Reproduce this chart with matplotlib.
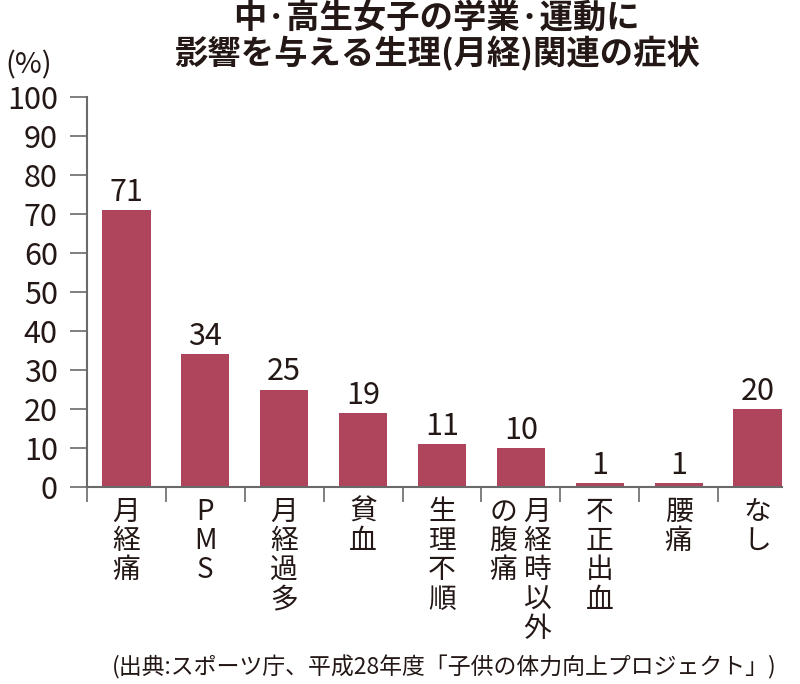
import matplotlib
matplotlib.use("Agg")
import matplotlib.pyplot as plt
import numpy as np

plt.rcParams['font.family'] = ['Noto Sans CJK JP', 'DejaVu Sans']

title = "中·高生女子の学業·運動に\n影響を与える生理(月経)関連の症状"
categories = ["月経痛", "PMS", "月経過多", "貧血", "生理不順",
              "月経時以外の腹痛", "不正出血", "腰痛", "なし"]
tick_labels = ["月\n経\n痛", "P\nM\nS", "月\n経\n過\n多", "貧\n血", "生\n理\n不\n順",
               "の 月\n腹 経\n痛 時\n\u3000 以\n\u3000 外", "不\n正\n出\n血", "腰\n痛", "な\nし"]
values = [71, 34, 25, 19, 11, 10, 1, 1, 20]
yticks = [0, 10, 20, 30, 40, 50, 60, 70, 80, 90, 100]
unit_label = "(%)"
source = "(出典:スポーツ庁、平成28年度「子供の体力向上プロジェクト」)"

BAR = '#AE455C'
TXT = '#231815'
AX = '#6a6a6a'

fig = plt.figure(figsize=(8, 6.84), dpi=100)
ax = fig.add_axes([0.10875, 0.288, 0.977 - 0.10875, 0.858 - 0.288])

x = np.arange(len(categories))
w = 0.61
ax.bar(x, values, width=w, color=BAR, zorder=2)
for xi, v in zip(x, values):
    ax.text(xi, v + 0.6, str(v), ha='center', va='bottom', fontsize=22, color=TXT)

ax.set_xlim(-0.5, len(categories) - 1 + w / 2)
ax.set_ylim(0, 100)
ax.set_yticks(yticks)
ax.set_yticklabels([str(t) for t in yticks], fontsize=22, color=TXT)
ax.tick_params(axis='y', length=12, width=1.2, color=AX, pad=9)

ax.set_xticks(x)
ax.set_xticklabels(tick_labels, fontsize=20, color=TXT, va='top', linespacing=0.97)
ax.tick_params(axis='x', which='major', length=0, pad=7)
ax.set_xticks(np.arange(-0.5, len(categories) - 1, 1.0), minor=True)
ax.tick_params(axis='x', which='minor', length=11, width=1.2, color=AX, direction='out')

for s in ['top', 'right']:
    ax.spines[s].set_visible(False)
for s in ['left', 'bottom']:
    ax.spines[s].set_color(AX)
    ax.spines[s].set_linewidth(1.5)

fig.text(0.036, 0.883, unit_label, fontsize=21, color=TXT, ha='center', va='bottom')
fig.text(0.546, 0.997, title, fontsize=24, fontweight='bold', color=TXT,
         ha='center', va='top', linespacing=1.05)
fig.text(0.555, 0.006, source, fontsize=16.5, color=TXT, ha='center', va='bottom')

fig.savefig('out.png', dpi=100, facecolor='white')
